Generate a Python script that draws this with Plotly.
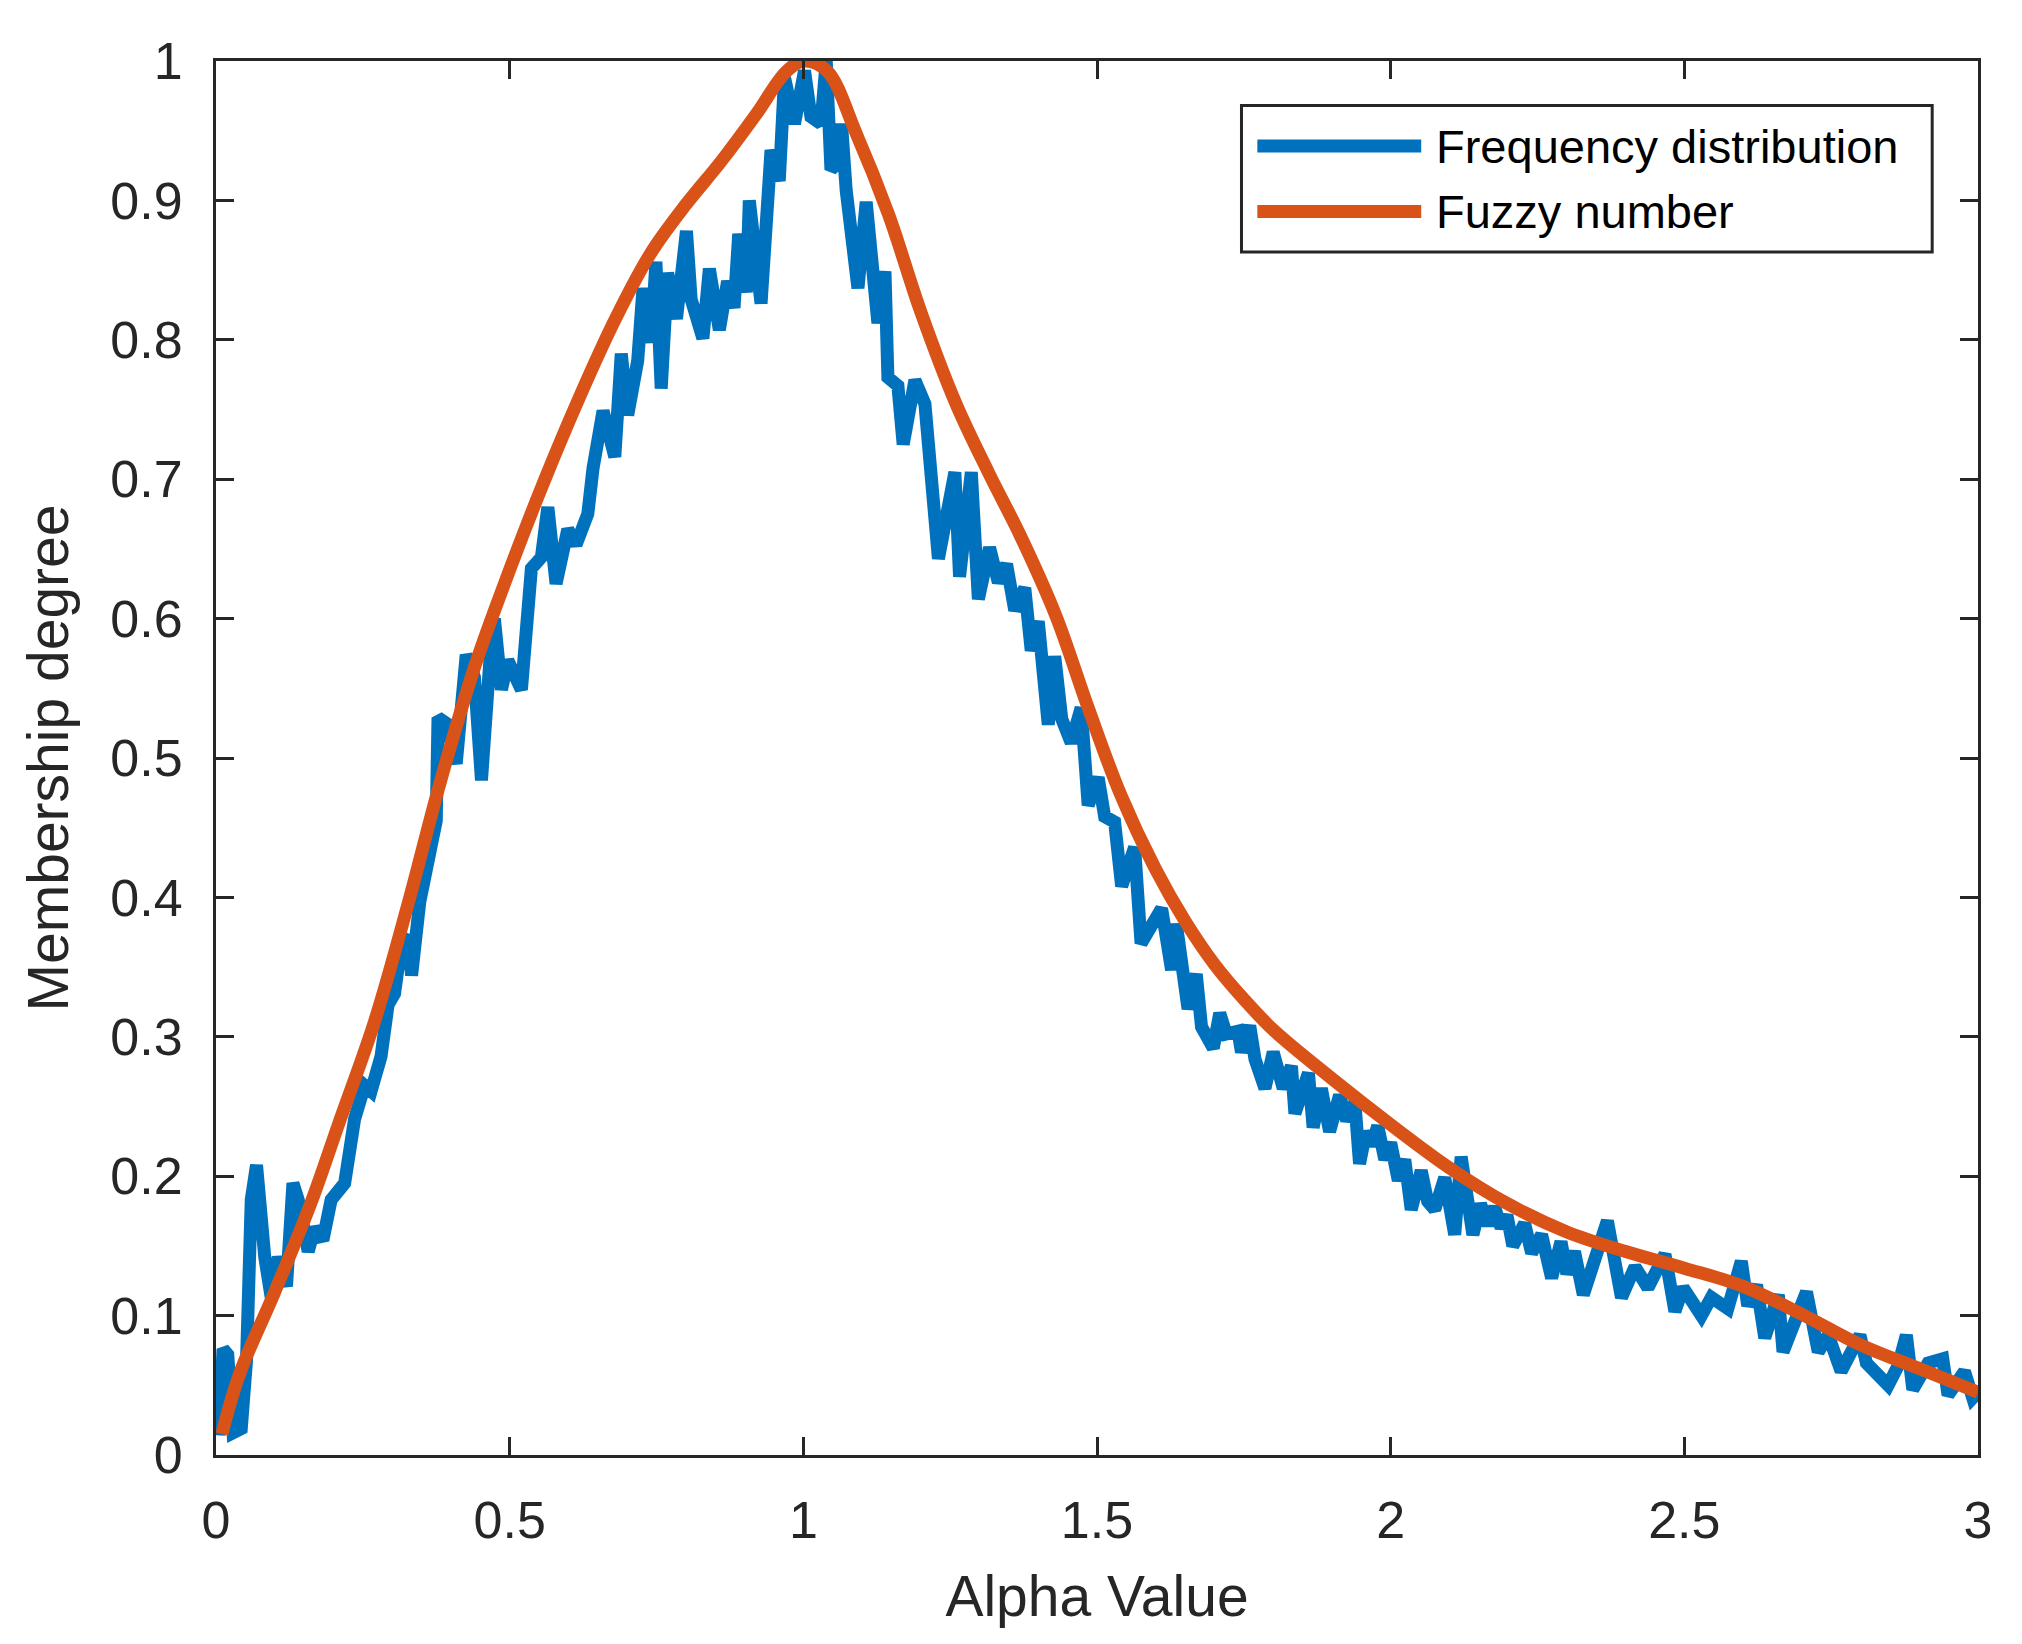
import plotly.graph_objects as go

# Frequency distribution (blue)
freq_x = [0.005, 0.012, 0.02, 0.029, 0.043, 0.052, 0.06, 0.069, 0.083, 0.094,
          0.106, 0.12, 0.131, 0.14, 0.157, 0.168, 0.182, 0.196, 0.219, 0.236,
          0.253, 0.264, 0.281, 0.293, 0.304, 0.316, 0.327, 0.333, 0.347, 0.361,
          0.375, 0.378, 0.392, 0.409, 0.426, 0.44, 0.452, 0.469, 0.474, 0.486,
          0.497, 0.52, 0.537, 0.554, 0.565, 0.579, 0.599, 0.613, 0.633, 0.642,
          0.659, 0.679, 0.69, 0.701, 0.718, 0.727, 0.741, 0.749, 0.758, 0.769,
          0.784, 0.801, 0.809, 0.829, 0.84, 0.857, 0.871, 0.882, 0.89, 0.903,
          0.908, 0.928, 0.945, 0.959, 0.968, 0.985, 1.002, 1.013, 1.03, 1.039,
          1.047, 1.059, 1.065, 1.073, 1.093, 1.107, 1.117, 1.127, 1.139, 1.144,
          1.161, 1.17, 1.19, 1.207, 1.23, 1.258, 1.266, 1.286, 1.298, 1.317,
          1.332, 1.346, 1.36, 1.377, 1.388, 1.4, 1.417, 1.428, 1.44, 1.456,
          1.473, 1.485, 1.502, 1.513, 1.53, 1.542, 1.564, 1.575, 1.61, 1.621,
          1.627, 1.635, 1.655, 1.669, 1.678, 1.698, 1.709, 1.72, 1.74, 1.746,
          1.76, 1.769, 1.786, 1.8, 1.817, 1.831, 1.837, 1.86, 1.868, 1.882,
          1.896, 1.913, 1.925, 1.939, 1.947, 1.958, 1.967, 1.978, 1.99, 2.0,
          2.013, 2.024, 2.035, 2.052, 2.063, 2.075, 2.092, 2.109, 2.12, 2.14,
          2.153, 2.166, 2.177, 2.188, 2.198, 2.208, 2.228, 2.24, 2.257, 2.274,
          2.29, 2.3, 2.313, 2.328, 2.347, 2.369, 2.393, 2.416, 2.438, 2.467,
          2.484, 2.498, 2.529, 2.546, 2.574, 2.597, 2.608, 2.623, 2.637, 2.66,
          2.668, 2.708, 2.728, 2.745, 2.767, 2.799, 2.81, 2.847, 2.864, 2.878,
          2.889, 2.915, 2.94, 2.949, 2.977, 2.991, 3.0]
freq_y = [0.014, 0.076, 0.072, 0.016, 0.019, 0.068, 0.183, 0.208, 0.142, 0.113,
          0.142, 0.121, 0.195, 0.183, 0.146, 0.163, 0.154, 0.183, 0.195, 0.241,
          0.265, 0.261, 0.286, 0.323, 0.331, 0.368, 0.372, 0.344, 0.397, 0.422,
          0.455, 0.529, 0.525, 0.496, 0.574, 0.558, 0.484, 0.586, 0.6, 0.549,
          0.57, 0.549, 0.636, 0.644, 0.68, 0.625, 0.664, 0.653, 0.675, 0.708,
          0.749, 0.716, 0.79, 0.746, 0.785, 0.837, 0.798, 0.856, 0.765, 0.848,
          0.815, 0.878, 0.829, 0.801, 0.851, 0.807, 0.842, 0.823, 0.876, 0.834,
          0.9, 0.826, 0.936, 0.914, 0.988, 0.955, 0.993, 0.96, 0.955, 1.0,
          0.922, 0.927, 0.955, 0.907, 0.837, 0.899, 0.845, 0.812, 0.849, 0.773,
          0.767, 0.725, 0.771, 0.754, 0.643, 0.705, 0.63, 0.705, 0.614, 0.651,
          0.626, 0.639, 0.606, 0.622, 0.577, 0.598, 0.524, 0.573, 0.528, 0.511,
          0.536, 0.466, 0.486, 0.458, 0.454, 0.408, 0.436, 0.367, 0.392, 0.367,
          0.348, 0.381, 0.32, 0.345, 0.307, 0.292, 0.317, 0.302, 0.304, 0.289,
          0.308, 0.284, 0.263, 0.289, 0.263, 0.279, 0.245, 0.274, 0.235, 0.263,
          0.232, 0.258, 0.24, 0.253, 0.209, 0.232, 0.222, 0.236, 0.212, 0.224,
          0.197, 0.212, 0.176, 0.204, 0.182, 0.176, 0.199, 0.158, 0.214, 0.158,
          0.18, 0.165, 0.178, 0.163, 0.172, 0.15, 0.166, 0.145, 0.158, 0.127,
          0.153, 0.13, 0.146, 0.115, 0.14, 0.168, 0.113, 0.135, 0.12, 0.144,
          0.103, 0.12, 0.1, 0.113, 0.105, 0.139, 0.107, 0.122, 0.084, 0.115,
          0.074, 0.117, 0.074, 0.086, 0.06, 0.086, 0.066, 0.05, 0.064, 0.086,
          0.047, 0.066, 0.069, 0.043, 0.06, 0.041, 0.045]

# Fitted fuzzy number (orange)
fuzzy_x = [0.01, 0.04, 0.1, 0.16, 0.21, 0.27, 0.33, 0.38, 0.44, 0.5,
           0.56, 0.62, 0.68, 0.74, 0.8, 0.86, 0.92, 0.97, 1.0,
           1.04, 1.09, 1.145, 1.2, 1.26, 1.315, 1.37, 1.43, 1.485, 1.54,
           1.6, 1.65, 1.7, 1.75, 1.8, 1.9, 2.0, 2.1, 2.2, 2.3,
           2.4, 2.5, 2.6, 2.7, 2.8, 2.9, 3.0]
fuzzy_y = [0.015, 0.058, 0.117, 0.179, 0.239, 0.311, 0.4, 0.48, 0.565, 0.635,
           0.7, 0.76, 0.815, 0.862, 0.897, 0.928, 0.962, 0.992, 1.0,
           0.993, 0.948, 0.89, 0.82, 0.754, 0.705, 0.659, 0.602, 0.536, 0.474,
           0.42, 0.383, 0.352, 0.327, 0.305, 0.27, 0.237, 0.206, 0.18, 0.16,
           0.146, 0.134, 0.121, 0.101, 0.079, 0.062, 0.045]

x_ticks = [0, 0.5, 1, 1.5, 2, 2.5, 3]
x_labels = ["0", "0.5", "1", "1.5", "2", "2.5", "3"]
y_ticks = [0, 0.1, 0.2, 0.3, 0.4, 0.5, 0.6, 0.7, 0.8, 0.9, 1]
y_labels = ["0", "0.1", "0.2", "0.3", "0.4", "0.5", "0.6", "0.7", "0.8", "0.9", "1"]

names = ["Frequency distribution", "Fuzzy number"]
colors = ["#0072BD", "#D95319"]

FONT = "Liberation Sans, Arial, Helvetica, sans-serif"
AX = "#262626"
LW = 13

fig = go.Figure()
fig.add_trace(go.Scatter(x=freq_x, y=freq_y, mode="lines", name=names[0],
                         line=dict(color=colors[0], width=LW), showlegend=False))
fig.add_trace(go.Scatter(x=fuzzy_x, y=fuzzy_y, mode="lines", name=names[1],
                         line=dict(color=colors[1], width=LW, shape="spline", smoothing=1.0),
                         showlegend=False))

axis_common = dict(showline=True, linecolor=AX, linewidth=3, mirror="ticks",
                   ticks="inside", ticklen=18, tickwidth=3, tickcolor=AX,
                   showgrid=False, zeroline=False,
                   tickfont=dict(family=FONT, size=52, color=AX))

fig.update_xaxes(range=[0, 3], tickvals=x_ticks, ticktext=x_labels,
                 ticklabelstandoff=18,
                 title=dict(text="Alpha Value", font=dict(family=FONT, size=57, color=AX),
                            standoff=28),
                 **axis_common)
fig.update_yaxes(range=[0, 1], tickvals=y_ticks, ticktext=y_labels,
                 ticklabelstandoff=20,
                 title=dict(text="Membership degree", font=dict(family=FONT, size=57, color=AX),
                            standoff=24),
                 **axis_common)

# MATLAB-style legend box with long line samples
lx0, lx1, ly0, ly1 = 0.582, 0.974, 0.863, 0.968
fig.add_shape(type="rect", xref="paper", yref="paper", x0=lx0, x1=lx1, y0=ly0, y1=ly1,
              line=dict(color=AX, width=3), fillcolor="white", layer="above")
for i, yy in enumerate([0.939, 0.892]):
    fig.add_shape(type="line", xref="paper", yref="paper", x0=0.591, x1=0.684, y0=yy, y1=yy,
                  line=dict(color=colors[i], width=LW), layer="above")
    fig.add_annotation(x=0.691, y=yy, xref="paper", yref="paper", text=names[i],
                       showarrow=False, xanchor="left", yanchor="middle",
                       font=dict(family=FONT, size=47, color="black"))

fig.update_layout(width=2022, height=1644, plot_bgcolor="white", paper_bgcolor="white",
                  margin=dict(l=208, r=52, t=53, b=197), showlegend=False)

fig.write_html("out.html")
